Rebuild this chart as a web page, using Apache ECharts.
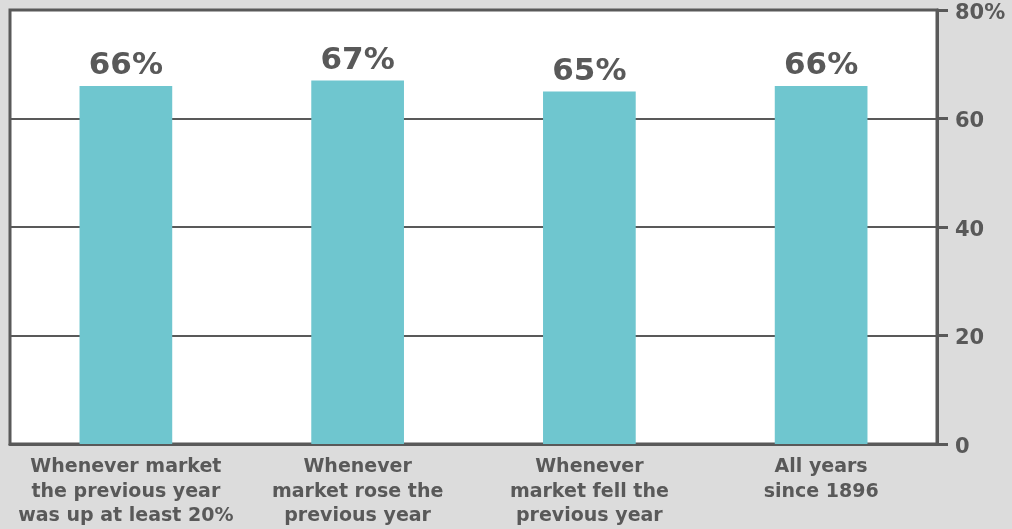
<!DOCTYPE html>
<html lang="en">
<head>
    <meta charset="UTF-8">
    <script src="https://cdn.jsdelivr.net/npm/echarts@6/dist/echarts.min.js"></script>
    <title>Market years</title>
    <style>
        html, body { margin: 0; padding: 0; background: #dcdcdc; }
    </style>
</head>
<body>
    <div id="main" style="width: 1012px; height: 529px;"></div>
    <script>
        // data
        var categories = [
            'Whenever market\nthe previous year\nwas up at least 20%',
            'Whenever\nmarket rose the\nprevious year',
            'Whenever\nmarket fell the\nprevious year',
            'All years\nsince 1896'
        ];
        var values = [66, 67, 65, 66];
        var yTicks = [0, 20, 40, 60, 80];

        var textColor = '#595959';
        var fontFam = '"DejaVu Sans", Verdana, sans-serif';

        var myChart = echarts.init(document.getElementById('main'));
        var option = {
            backgroundColor: '#dcdcdc',
            animation: false,
            grid: {
                left: 10, right: 75, top: 10, bottom: 85,
                show: true,
                backgroundColor: '#ffffff',
                borderColor: textColor,
                borderWidth: 3
            },
            xAxis: {
                type: 'category',
                data: categories,
                axisLine: { show: true, lineStyle: { color: textColor, width: 3 } },
                axisTick: { show: false },
                axisLabel: {
                    color: textColor,
                    fontFamily: fontFam,
                    fontWeight: 'bold',
                    fontSize: 19,
                    lineHeight: 24.5,
                    margin: 11,
                    interval: 0
                }
            },
            yAxis: {
                type: 'value',
                position: 'right',
                min: yTicks[0],
                max: yTicks[yTicks.length - 1],
                interval: 20,
                axisLine: { show: true, lineStyle: { color: textColor, width: 3 } },
                axisTick: { show: true, length: 11, lineStyle: { color: textColor, width: 3 } },
                splitLine: { show: true, lineStyle: { color: textColor, width: 2 } },
                axisLabel: {
                    margin: 18,
                    formatter: function (v) { return '{t|' + (v === 80 ? v + '%' : v) + '}'; },
                    rich: {
                        t: {
                            color: textColor,
                            fontFamily: fontFam,
                            fontWeight: 'bold',
                            fontSize: 21,
                            padding: [7, 0, 0, 0]
                        }
                    }
                }
            },
            series: [{
                type: 'bar',
                data: values,
                barWidth: '40%',
                itemStyle: { color: '#6fc6cf' },
                label: {
                    show: true,
                    position: 'top',
                    distance: 4,
                    color: textColor,
                    fontFamily: fontFam,
                    fontWeight: 'bold',
                    fontSize: 31,
                    formatter: '{c}%'
                }
            }]
        };
        myChart.setOption(option);
    </script>
</body>
</html>
